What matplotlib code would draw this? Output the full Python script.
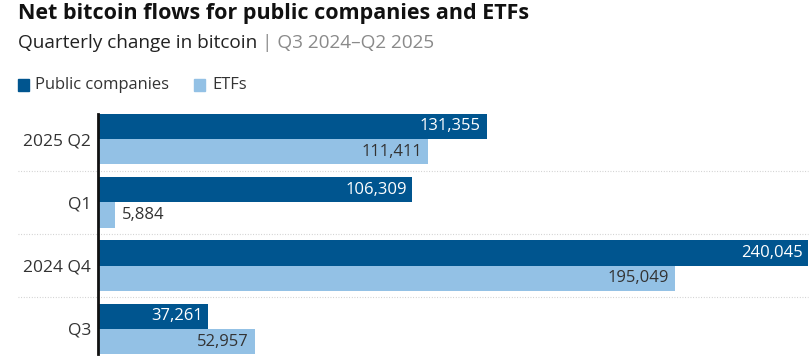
import matplotlib
matplotlib.use("Agg")
import matplotlib.pyplot as plt
import matplotlib.transforms as mtransforms
import numpy as np

plt.rcParams["font.family"] = ["Open Sans", "DejaVu Sans"]

quarters = ["Q3", "2024 Q4", "Q1", "2025 Q2"]
public_companies = [37261, 240045, 106309, 131355]
etfs = [52957, 195049, 5884, 111411]

dark = "#00558f"
light = "#93c1e5"
text_col = "#333333"

fig = plt.figure(figsize=(8.09, 3.64), dpi=100)
ax = fig.add_axes([98 / 809, 1 - 354.3 / 364, 710 / 809, (354.3 - 113.7) / 364])

y = np.arange(len(quarters))
h = 0.4
b1 = ax.barh(y + h / 2, public_companies, height=h, color=dark)
b2 = ax.barh(y - h / 2, etfs, height=h, color=light)

ax.set_xlim(0, max(public_companies))
ax.set_ylim(-0.4, len(quarters) - 0.6)

for rect, v in zip(b1, public_companies):
    ax.annotate(f"{v:,}", (v, rect.get_y() + rect.get_height() / 2),
                xytext=(-4, 0), textcoords="offset points",
                ha="right", va="center", color="white", fontsize=12)
for rect, v in zip(b2, etfs):
    if v < 20000:
        ax.annotate(f"{v:,}", (v, rect.get_y() + rect.get_height() / 2),
                    xytext=(5, 0), textcoords="offset points",
                    ha="left", va="center", color=text_col, fontsize=12)
    else:
        ax.annotate(f"{v:,}", (v, rect.get_y() + rect.get_height() / 2),
                    xytext=(-4, 0), textcoords="offset points",
                    ha="right", va="center", color=text_col, fontsize=12)

# dotted separators between groups
trans = mtransforms.blended_transform_factory(ax.transAxes, ax.transData)
for i in range(len(quarters) - 1):
    ax.plot([-80 / 710, 1], [i + 0.5, i + 0.5], transform=trans, clip_on=False,
            color="#cccccc", linestyle=(0, (0.8, 1.6)), linewidth=0.8)

ax.set_yticks(y)
ax.set_yticklabels(quarters, fontsize=12.5, color=text_col)
ax.tick_params(axis="y", length=0, pad=5)
ax.set_xticks([])
for s in ["top", "right", "bottom"]:
    ax.spines[s].set_visible(False)
ax.spines["left"].set_linewidth(2)
ax.spines["left"].set_color("#111111")
ax.spines["left"].set_zorder(5)

# title / subtitle
fig.text(18 / 809, 1 - 14 / 364, "Net bitcoin flows for public companies and ETFs",
         fontsize=15.5, fontweight="bold", color="#111111", va="center", ha="left")
t = fig.text(18 / 809, 1 - 43 / 364, "Quarterly change in bitcoin ",
             fontsize=13.7, color="#222222", va="center", ha="left")
fig.canvas.draw()
bb = t.get_window_extent()
fig.text(bb.x1 / 809, 1 - 43 / 364, "| Q3 2024\u2013Q2 2025",
         fontsize=13.7, color="#8a8a8a", va="center", ha="left")

# legend
ly = 1 - 85 / 364
fig.patches.append(plt.Rectangle((18 / 809, 1 - 91 / 364), 11 / 809, 12 / 364,
                                 transform=fig.transFigure, color=dark))
fig.text(35 / 809, ly, "Public companies", fontsize=11.9, color=text_col, va="center")
fig.patches.append(plt.Rectangle((194 / 809, 1 - 91 / 364), 11 / 809, 12 / 364,
                                 transform=fig.transFigure, color=light))
fig.text(212 / 809, ly, "ETFs", fontsize=11.9, color=text_col, va="center")

fig.savefig("out.png", dpi=100)
